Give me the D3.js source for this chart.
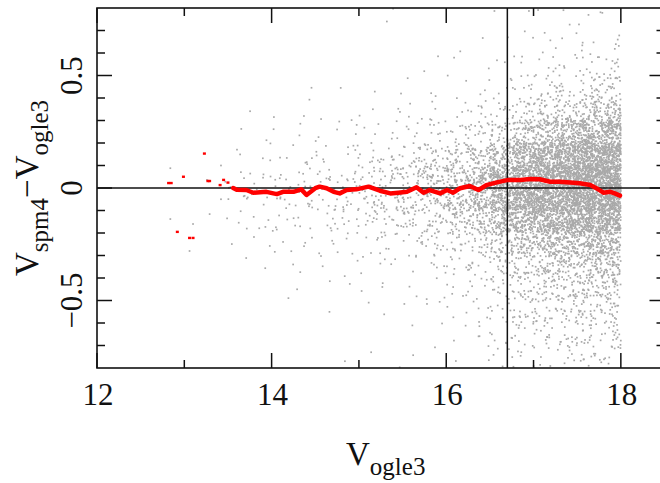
<!DOCTYPE html>
<html>
<head>
<meta charset="utf-8">
<script src="https://cdn.jsdelivr.net/npm/d3@7"></script>
<style>
  body { margin: 0; background: #fff; }
  svg { display: block; }
  text { font-family: "Liberation Serif", "DejaVu Serif", serif; fill: #111; }
</style>
</head>
<body>
<svg id="chart" width="660" height="483"></svg>
<script>
// axis ticks
const xMajorTicks = [12, 14, 16, 18];
const xMinorTicks = [13, 15, 17];
const yMajorTicks = [-0.5, 0, 0.5];
const yMinorTicks = [-0.7, -0.6, -0.4, -0.3, -0.2, -0.1, 0.1, 0.2, 0.3, 0.4, 0.6, 0.7];
const yTickLabels = ["\u22120.5", "0", "0.5"];

// reference line positions
const vLineX = 16.7;
const hLineY = 0;

// density of the grey cloud:
// columns are V_ogle3 bins, rows are 0.1 mag bands of the difference (top 0.8 -> bottom -0.8)
const cloudBinX = [13.5, 13.75, 14.0, 14.25, 14.5, 14.75, 15.0, 15.25, 15.5, 15.75,
                   16.0, 16.25, 16.5, 16.75, 17.0, 17.25, 17.5, 17.75, 18.0];
const cloudBandY = [0.8, 0.7, 0.6, 0.5, 0.4, 0.3, 0.2, 0.1, 0.0,
                    -0.1, -0.2, -0.3, -0.4, -0.5, -0.6, -0.7, -0.8];
const cloudCounts = [
  [0,0,0,0,0,1,2,4,5,3,1,1,0,0,0,0],
  [0,0,0,0,1,1,3,5,6,4,2,1,0,0,0,0],
  [0,0,0,0,1,1,3,6,7,5,3,1,1,0,0,0],
  [0,0,0,1,1,2,4,7,8,5,3,1,1,0,0,0],
  [0,0,0,0,1,2,5,9,10,6,3,2,1,1,0,0],
  [0,0,0,1,1,3,6,11,12,8,4,2,1,0,0,1],
  [0,0,0,1,1,3,8,15,17,10,5,3,1,1,0,0],
  [1,0,0,1,2,4,10,20,22,12,6,3,2,1,0,1],
  [0,0,1,1,3,5,14,28,30,17,8,4,2,1,1,1],
  [0,0,1,2,4,8,20,40,42,24,11,6,3,2,1,1],
  [0,1,1,2,5,11,30,58,58,34,15,8,5,3,2,1],
  [0,1,1,3,7,16,45,85,85,50,22,11,7,5,3,2],
  [1,1,2,4,10,28,82,150,150,95,40,20,13,9,6,4],
  [1,2,4,8,20,55,130,210,200,130,60,32,20,14,9,6],
  [1,3,5,11,28,75,165,245,225,155,75,40,26,17,11,7],
  [2,3,7,15,38,100,195,265,245,170,85,46,30,20,13,8],
  [2,4,9,20,50,125,220,285,260,185,95,54,34,22,15,10],
  [2,5,11,25,60,145,235,295,270,195,105,60,37,24,16,11]
];

// isolated bright stars (grey) left of the cloud
const brightGrey = [
  [12.84, 0.088], [12.84, -0.138], [13.06, -0.28], [13.10, -0.16], [13.29, -0.116],
  [13.26, 0.036], [13.42, 0.10], [13.42, -0.05], [13.49, -0.135], [13.47, 0.028],
  [14.37, 0.32], [14.75, 0.26], [15.16, 0.35], [15.14, -0.73], [15.32, 0.74]
];

// running median (red)
const medianX = [13.56, 13.60, 13.71, 13.79, 13.94, 14.06, 14.13, 14.25, 14.34, 14.40,
                 14.50, 14.55, 14.63, 14.71, 14.78, 14.86, 14.97, 15.11, 15.24, 15.36,
                 15.45, 15.55, 15.66, 15.74, 15.81, 15.93, 16.01, 16.08, 16.16, 16.27,
                 16.37, 16.46, 16.58, 16.71, 16.85, 16.96, 17.07, 17.19, 17.30, 17.42,
                 17.53, 17.65, 17.72, 17.80, 17.88, 17.93, 17.99];
const medianY = [0.000, -0.008, -0.009, -0.021, -0.017, -0.027, -0.017, -0.017, -0.006, -0.031,
                 -0.001, 0.006, -0.001, -0.017, -0.024, -0.009, -0.006, 0.006, -0.012, -0.024,
                 -0.021, -0.017, 0.003, -0.021, -0.009, -0.024, -0.009, -0.021, -0.001, 0.009,
                 -0.009, 0.013, 0.025, 0.036, 0.036, 0.040, 0.039, 0.028, 0.028, 0.024,
                 0.021, 0.013, -0.001, -0.021, -0.017, -0.024, -0.034];
// separate red points at the bright end
const medianStray = [
  [12.82, 0.022], [12.85, 0.022], [12.92, -0.195], [12.99, 0.05], [13.06, -0.222],
  [13.10, -0.222], [13.23, 0.153], [13.27, 0.031], [13.29, 0.031], [13.41, 0.013],
  [13.45, 0.036], [13.50, 0.024]
];

const svg = d3.select('#chart');
const margin = {left: 97, top: 8, right: 664.5, bottom: 368};

const x = d3.scaleLinear().domain([12, 18.5]).range([margin.left, margin.right]);
const y = d3.scaleLinear().domain([-0.8, 0.8]).range([margin.bottom, margin.top]);

const plot = svg.append('g');
plot.append('clipPath').attr('id', 'clip')
  .append('rect')
  .attr('x', margin.left).attr('y', margin.top)
  .attr('width', margin.right - margin.left).attr('height', margin.bottom - margin.top);

// fixed-seed jitter so every run places the cell's points the same way
function cellJitter(seed) {
  let a = seed >>> 0;
  return function() {
    a = (a + 0x6D2B79F5) >>> 0;
    let t = a;
    t = Math.imul(t ^ (t >>> 15), t | 1);
    t ^= t + Math.imul(t ^ (t >>> 7), t | 61);
    return ((t ^ (t >>> 14)) >>> 0) / 4294967296;
  };
}

// spread each cell's count over the cell
let cloud = [];
cloudCounts.forEach(function(col, ci) {
  col.forEach(function(n, bi) {
    let x0 = cloudBinX[ci], x1 = cloudBinX[ci + 1];
    let y0 = cloudBandY[bi], y1 = cloudBandY[bi + 1];
    let jit = cellJitter(ci * 977 + bi * 131 + 17);
    for (let i = 0; i < n; i++) {
      cloud.push([x0 + jit() * (x1 - x0), y0 + jit() * (y1 - y0)]);
    }
  });
});
cloud = cloud.concat(brightGrey);

const dot = 1.7;
plot.append('g').attr('clip-path', 'url(#clip)')
  .selectAll('rect').data(cloud).join('rect')
  .attr('x', d => x(d[0]) - dot / 2)
  .attr('y', d => y(d[1]) - dot / 2)
  .attr('width', dot).attr('height', dot)
  .attr('fill', '#a9a9a9');

// reference lines
plot.append('line')
  .attr('x1', margin.left).attr('x2', margin.right)
  .attr('y1', y(hLineY)).attr('y2', y(hLineY))
  .attr('stroke', '#111').attr('stroke-width', 1.5);
plot.append('line')
  .attr('x1', x(vLineX)).attr('x2', x(vLineX))
  .attr('y1', margin.top).attr('y2', margin.bottom)
  .attr('stroke', '#111').attr('stroke-width', 1.5);

// red running median
let line = d3.line().x(d => x(d[0])).y(d => y(d[1]));
plot.append('path')
  .attr('d', line(d3.zip(medianX, medianY)))
  .attr('fill', 'none')
  .attr('stroke', '#ff0000')
  .attr('stroke-width', 4.5)
  .attr('stroke-linejoin', 'round')
  .attr('stroke-linecap', 'round');
plot.append('g').selectAll('rect').data(medianStray).join('rect')
  .attr('x', d => x(d[0]) - 1.5)
  .attr('y', d => y(d[1]) - 1.2)
  .attr('width', 3).attr('height', 2.4)
  .attr('fill', '#ff0000');

// frame + inward ticks
const axes = svg.append('g');
axes.append('rect')
  .attr('x', margin.left).attr('y', margin.top)
  .attr('width', margin.right - margin.left).attr('height', margin.bottom - margin.top)
  .attr('fill', 'none').attr('stroke', '#111').attr('stroke-width', 1.6);

function xTicks(vals, len) {
  vals.forEach(function(v) {
    axes.append('line').attr('x1', x(v)).attr('x2', x(v))
      .attr('y1', margin.bottom).attr('y2', margin.bottom - len)
      .attr('stroke', '#111').attr('stroke-width', 1.5);
    axes.append('line').attr('x1', x(v)).attr('x2', x(v))
      .attr('y1', margin.top).attr('y2', margin.top + len)
      .attr('stroke', '#111').attr('stroke-width', 1.5);
  });
}
function yTicks(vals, len) {
  vals.forEach(function(v) {
    axes.append('line').attr('x1', margin.left).attr('x2', margin.left + len)
      .attr('y1', y(v)).attr('y2', y(v))
      .attr('stroke', '#111').attr('stroke-width', 1.5);
    axes.append('line').attr('x1', margin.right).attr('x2', margin.right - len)
      .attr('y1', y(v)).attr('y2', y(v))
      .attr('stroke', '#111').attr('stroke-width', 1.5);
  });
}
xTicks(xMajorTicks, 15);
xTicks(xMinorTicks, 8);
yTicks(yMajorTicks, 15);
yTicks(yMinorTicks, 8);

// tick labels
axes.selectAll('text.xt').data(xMajorTicks).join('text')
  .attr('class', 'xt')
  .attr('x', d => x(d) + 1).attr('y', 405)
  .attr('text-anchor', 'middle')
  .style('font-size', '31px')
  .text(d => d);
axes.selectAll('text.yt').data(yMajorTicks).join('text')
  .attr('class', 'yt')
  .attr('transform', d => 'translate(82,' + y(d) + ') rotate(-90)')
  .attr('text-anchor', 'middle')
  .style('font-size', '31px')
  .text((d, i) => yTickLabels[i]);

// axis titles
let xt = svg.append('text').attr('x', 346).attr('y', 465).style('font-size', '33px');
xt.append('tspan').text('V');
xt.append('tspan').attr('dy', 10).style('font-size', '25px').text('ogle3');

let yt = svg.append('text').attr('transform', 'translate(38,276) rotate(-90)').style('font-size', '33px');
yt.append('tspan').text('V');
yt.append('tspan').attr('dy', 10).style('font-size', '25px').text('spm4');
yt.append('tspan').attr('dy', -10).text('\u2212V');
yt.append('tspan').attr('dy', 10).style('font-size', '25px').text('ogle3');
</script>
</body>
</html>
